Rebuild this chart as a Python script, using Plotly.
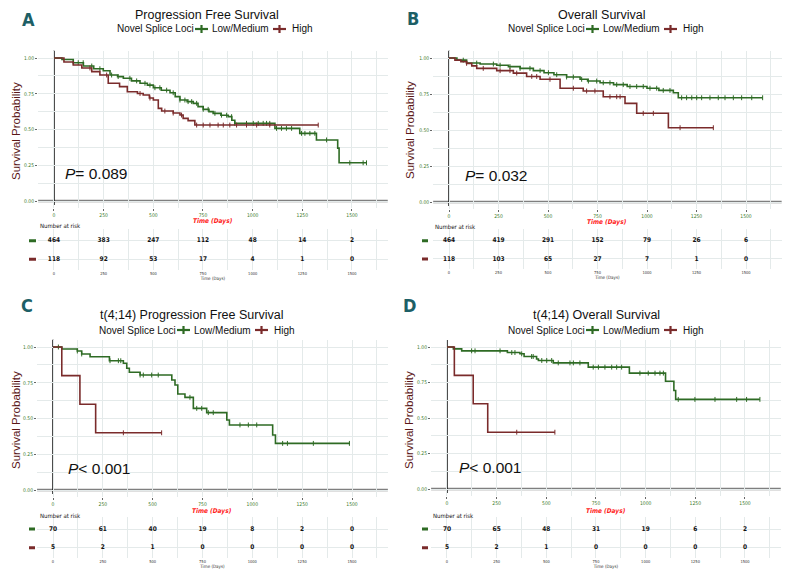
import plotly.graph_objects as go

# the page puts the figure 8 px in from the window corner, so the figure is
# sized to the remaining area and every pixel position is shifted by that
W, H, OFF = 782, 569, 8

# time breaks (days) shared by every panel
time_breaks = [0, 250, 500, 750, 1000, 1250, 1500]

# ---- A: Progression Free Survival ----
a_low_t = [0, 40, 97, 148, 200, 248, 282, 320, 349, 390, 433, 470, 500, 540, 584, 610, 634, 670, 701, 725, 751, 780, 801, 840, 877, 895, 910, 1112, 1237, 1321, 1428, 1435]
a_low_s = [1.0, 0.99, 0.967, 0.944, 0.925, 0.911, 0.881, 0.87, 0.858, 0.84, 0.823, 0.81, 0.792, 0.775, 0.757, 0.73, 0.706, 0.695, 0.683, 0.66, 0.641, 0.625, 0.613, 0.60, 0.59, 0.565, 0.543, 0.508, 0.473, 0.427, 0.37, 0.267]
a_low_end = 1573
a_low_cens = [97, 122, 147, 190, 231, 290, 323, 382, 416, 458, 483, 508, 533, 567, 600, 634, 659, 675, 693, 718, 751, 776, 810, 843, 869, 894, 910, 969, 1003, 1028, 1053, 1070, 1086, 1120, 1145, 1170, 1196, 1246, 1263, 1288, 1313, 1372, 1489, 1556, 1573]
a_high_t = [0, 50, 97, 140, 190, 231, 273, 330, 369, 420, 449, 480, 500, 525, 542, 600, 634, 650, 675, 709]
a_high_s = [1.0, 0.972, 0.951, 0.93, 0.905, 0.881, 0.823, 0.8, 0.764, 0.752, 0.741, 0.72, 0.706, 0.648, 0.629, 0.615, 0.601, 0.578, 0.562, 0.531]
a_high_end = 1330
a_high_cens = [181, 265, 433, 483, 558, 600, 642, 718, 751, 785, 826, 852, 885, 919, 969, 1020, 1086, 1330]
a_risk_low = [464, 383, 247, 112, 48, 14, 2]
a_risk_high = [118, 92, 53, 17, 4, 1, 0]

# ---- B: Overall Survival ----
b_low_t = [0, 40, 89, 157, 241, 300, 359, 426, 480, 530, 594, 662, 700, 763, 831, 900, 1000, 1060, 1133, 1158]
b_low_s = [1.0, 0.985, 0.965, 0.958, 0.95, 0.94, 0.928, 0.912, 0.898, 0.884, 0.868, 0.852, 0.84, 0.828, 0.815, 0.802, 0.79, 0.775, 0.759, 0.724]
b_low_end = 1584
b_low_cens = [72, 140, 224, 258, 308, 359, 409, 460, 502, 544, 594, 628, 670, 704, 746, 779, 813, 847, 880, 914, 948, 981, 1015, 1049, 1082, 1116, 1175, 1200, 1226, 1251, 1276, 1318, 1360, 1394, 1436, 1478, 1529, 1584]
b_high_t = [0, 30, 60, 89, 115, 140, 241, 325, 392, 460, 561, 678, 779, 889, 948, 1108]
b_high_s = [1.0, 0.985, 0.975, 0.963, 0.945, 0.928, 0.912, 0.895, 0.872, 0.852, 0.79, 0.771, 0.731, 0.685, 0.616, 0.516]
b_high_end = 1335
b_high_cens = [89, 173, 258, 308, 342, 418, 443, 510, 628, 695, 737, 813, 847, 864, 981, 1032, 1167, 1335]
b_risk_low = [464, 419, 291, 152, 79, 26, 6]
b_risk_high = [118, 103, 65, 27, 7, 1, 0]

# ---- C: t(4;14) Progression Free Survival ----
c_low_t = [0, 44, 122, 144, 186, 283, 353, 370, 383, 437, 596, 612, 626, 662, 704, 771, 872, 885, 1102, 1116]
c_low_s = [1.0, 0.986, 0.972, 0.951, 0.932, 0.904, 0.886, 0.851, 0.823, 0.804, 0.769, 0.734, 0.671, 0.648, 0.571, 0.541, 0.49, 0.455, 0.385, 0.326]
c_low_end = 1490
c_low_cens = [27, 122, 144, 286, 328, 340, 437, 453, 495, 528, 687, 721, 746, 779, 804, 938, 980, 1022, 1152, 1176, 1306, 1487]
c_high_t = [0, 44, 135, 214]
c_high_s = [1.0, 0.8, 0.6, 0.4]
c_high_end = 545
c_high_cens = [353, 545]
c_risk_low = [70, 61, 40, 19, 8, 2, 0]
c_risk_high = [5, 2, 1, 0, 0, 0, 0]

# ---- D: t(4;14) Overall Survival ----
d_low_t = [0, 32, 74, 304, 367, 388, 451, 460, 535, 711, 918, 1100, 1142, 1151]
d_low_s = [1.0, 0.987, 0.973, 0.961, 0.952, 0.933, 0.916, 0.905, 0.888, 0.858, 0.816, 0.759, 0.694, 0.631]
d_low_end = 1575
d_low_cens = [124, 141, 267, 326, 342, 376, 426, 434, 477, 502, 527, 560, 619, 636, 669, 736, 762, 795, 829, 854, 879, 971, 1013, 1047, 1072, 1089, 1164, 1248, 1349, 1458, 1508, 1575]
d_high_t = [0, 37, 132, 205]
d_high_s = [1.0, 0.8, 0.6, 0.4]
d_high_end = 543
d_high_cens = [351, 543]
d_risk_low = [70, 65, 48, 31, 19, 6, 2]
d_risk_high = [5, 2, 1, 0, 0, 0, 0]

GREEN = '#2e6b24'
RED = '#7a2b2b'
GRID = '#e4eaea'
TICKGREEN = '#3c7a2a'
NARROW = 'DejaVu Sans Condensed, Roboto Condensed, Roboto, Liberation Sans, sans-serif'


def surv_at(t, times, surv):
    val = surv[0]
    for ti, si in zip(times, surv):
        if ti <= t:
            val = si
    return val


panels = [
    dict(letter='A', title='Progression Free Survival', p='<i>P</i>= 0.089',
         low=(a_low_t, a_low_s, a_low_end, a_low_cens), high=(a_high_t, a_high_s, a_high_end, a_high_cens),
         risk=(a_risk_low, a_risk_high),
         zx=54, x15=352, y1=58, y0=201, rl=240.7, rh=259.3, let=(28, 20), tit=(207, 15), lg=(115, 29),
         yt=(16, 131), pp=(63, 173), tt=(213, 220.5), nar=(38, 225), dash=(29, 36)),
    dict(letter='B', title='Overall Survival', p='<i>P</i>= 0.032',
         low=(b_low_t, b_low_s, b_low_end, b_low_cens), high=(b_high_t, b_high_s, b_high_end, b_high_cens),
         risk=(b_risk_low, b_risk_high),
         zx=449, x15=746, y1=58, y0=202, rl=240.7, rh=259.0, let=(413, 19), tit=(602, 15), lg=(506, 29),
         yt=(410, 130), pp=(463, 175), tt=(607, 222), nar=(433, 226.5), dash=(422, 428)),
    dict(letter='C', title='t(4;14) Progression Free Survival', p='<i>P</i>< 0.001',
         low=(c_low_t, c_low_s, c_low_end, c_low_cens), high=(c_high_t, c_high_s, c_high_end, c_high_cens),
         risk=(c_risk_low, c_risk_high),
         zx=53, x15=352, y1=347, y0=490, rl=529, rh=547.7, let=(27, 305), tit=(191, 315), lg=(97, 330),
         yt=(16, 420), pp=(66, 468), tt=(212, 510.5), nar=(38, 515), dash=(29, 35)),
    dict(letter='D', title='t(4;14) Overall Survival', p='<i>P</i>< 0.001',
         low=(d_low_t, d_low_s, d_low_end, d_low_cens), high=(d_high_t, d_high_s, d_high_end, d_high_cens),
         risk=(d_risk_low, d_risk_high),
         zx=447, x15=745, y1=347, y0=489, rl=529, rh=547.7, let=(409, 305), tit=(596, 315), lg=(506, 330),
         yt=(409, 420), pp=(457, 467), tt=(606, 510.5), nar=(431, 515), dash=(422, 428)),
]


def px(x):
    return (x - OFF) / W


def py(y):
    return 1 - (y - OFF) / H


def names(n):
    if n == 1:
        return 'xaxis', 'yaxis', 'x', 'y'
    return f'xaxis{n}', f'yaxis{n}', f'x{n}', f'y{n}'


fig = go.Figure()
layout = {}
shapes = []
annotations = []

for i, p in enumerate(panels):
    km, rk = 2 * i + 1, 2 * i + 2
    kxa, kya, kx, ky = names(km)
    rxa, rya, rx, ry = names(rk)

    scale = (p['x15'] - p['zx']) / 1500
    xdom = [px(p['zx'] - 80 * scale), min(1, px(p['zx'] + 1680 * scale))]
    unit = p['y0'] - p['y1']
    ydom = [py(p['y0'] + 0.05 * unit), py(p['y1'] - 0.05 * unit)]
    ru = p['rh'] - p['rl']
    rdom = [py(p['rh'] + 0.55 * ru), py(p['rl'] - 0.65 * ru)]

    layout[kxa] = dict(domain=xdom, range=[-80, 1680], anchor=ky, tick0=0, dtick=250, automargin=False,
                       showgrid=True, gridcolor=GRID, gridwidth=1, zeroline=False, showline=False,
                       ticks='outside', ticklen=2, tickcolor='#666',
                       tickfont=dict(size=5, color=TICKGREEN, family=NARROW),
                       minor=dict(dtick=125, showgrid=True, gridcolor=GRID, gridwidth=1))
    layout[kya] = dict(domain=ydom, range=[-0.05, 1.05], anchor=kx, tick0=0, dtick=0.25, tickformat='.2f',
                       automargin=False, showgrid=True, gridcolor=GRID, zeroline=False, showline=False,
                       ticks='outside', ticklen=2, tickcolor='#666',
                       tickfont=dict(size=5, color=TICKGREEN, family=NARROW),
                       minor=dict(dtick=0.125, showgrid=True, gridcolor=GRID))
    layout[rxa] = dict(domain=xdom, range=[-80, 1680], anchor=ry, tick0=0, dtick=250, automargin=False,
                       showgrid=True, gridcolor=GRID, zeroline=False, showline=False,
                       tickfont=dict(size=4, color='#333', family=NARROW),
                       title=dict(text='Time (Days)', font=dict(size=4.5, color='#333', family=NARROW), standoff=1),
                       minor=dict(dtick=125, showgrid=True, gridcolor=GRID))
    layout[rya] = dict(domain=rdom, range=[-0.55, 1.65], anchor=rx, tickvals=[0, 1], showticklabels=False,
                       automargin=False, showgrid=True, gridcolor=GRID, zeroline=False, showline=False)

    # reference lines at x=0 and y=0
    shapes.append(dict(type='line', xref=f'{kx} domain', yref=ky, x0=0, x1=1, y0=0, y1=0,
                       line=dict(color='#7f7f7f', width=2.5), layer='below'))
    shapes.append(dict(type='line', xref=kx, yref=f'{ky} domain', x0=0, x1=0, y0=0.02, y1=1,
                       line=dict(color='#111', width=1.5), layer='below'))

    for grp, col in (('low', GREEN), ('high', RED)):
        t, s, end, cens = p[grp]
        fig.add_trace(go.Scatter(x=t + [end], y=s + [s[-1]], mode='lines', xaxis=kx, yaxis=ky,
                                 line=dict(shape='hv', color=col, width=1.6), showlegend=False))
        fig.add_trace(go.Scatter(x=cens, y=[surv_at(c, t, s) for c in cens], mode='markers',
                                 xaxis=kx, yaxis=ky, showlegend=False,
                                 marker=dict(symbol='line-ns', size=3.5, color=col,
                                             line=dict(width=1, color=col))))

    # number-at-risk table
    low_r, high_r = p['risk']
    for row, vals, col in ((1, low_r, GREEN), (0, high_r, RED)):
        fig.add_trace(go.Scatter(x=time_breaks, y=[row] * len(time_breaks), mode='text',
                                 text=[f'<b>{v}</b>' for v in vals], xaxis=rx, yaxis=ry, showlegend=False,
                                 textfont=dict(size=6.5, color='#111', family=NARROW)))
        shapes.append(dict(type='line', xref='paper', yref=ry, x0=px(p['dash'][0]), x1=px(p['dash'][1]),
                           y0=row, y1=row, line=dict(color=col, width=3)))

    # texts
    annotations.append(dict(text=f"<b>{p['letter']}</b>", x=px(p['let'][0]), y=py(p['let'][1]),
                            font=dict(size=18, color='#1d5f66', family=NARROW)))
    annotations.append(dict(text=p['title'], x=px(p['tit'][0]), y=py(p['tit'][1]),
                            font=dict(size=12.5, color='#111')))
    annotations.append(dict(text='Survival Probability', x=px(p['yt'][0]), y=py(p['yt'][1]), textangle=-90,
                            font=dict(size=11.5, color='#5a1616')))
    annotations.append(dict(text=p['p'], x=px(p['pp'][0]), y=py(p['pp'][1]), xanchor='left',
                            font=dict(size=15.5, color='#111')))
    annotations.append(dict(text='<b><i>Time (Days)</i></b>', x=px(p['tt'][0]), y=py(p['tt'][1]),
                            font=dict(size=6.5, color='#ff2020', family=NARROW)))
    annotations.append(dict(text='Number at risk', x=px(p['nar'][0]), y=py(p['nar'][1]), xanchor='left',
                            font=dict(size=6, color='#111', family=NARROW)))

    # legend row
    lx, ly = p['lg']
    annotations.append(dict(text='Novel Splice Loci', x=px(lx), y=py(ly), xanchor='left',
                            font=dict(size=10, color='#111')))
    annotations.append(dict(text='Low/Medium', x=px(lx + 95), y=py(ly), xanchor='left',
                            font=dict(size=10, color='#111')))
    annotations.append(dict(text='High', x=px(lx + 175), y=py(ly), xanchor='left',
                            font=dict(size=10, color='#111')))
    for off, col in ((80, GREEN), (158, RED)):
        shapes.append(dict(type='line', xref='paper', yref='paper', x0=px(lx + off), x1=px(lx + off + 13),
                           y0=py(ly), y1=py(ly), line=dict(color=col, width=2.2)))
        shapes.append(dict(type='line', xref='paper', yref='paper', x0=px(lx + off + 6.5), x1=px(lx + off + 6.5),
                           y0=py(ly - 4), y1=py(ly + 4), line=dict(color=col, width=2.2)))

for a in annotations:
    a.update(xref='paper', yref='paper', showarrow=False)
    a.setdefault('xanchor', 'center')
    a.setdefault('yanchor', 'middle')

fig.update_layout(**layout)
fig.update_layout(width=W, height=H, margin=dict(l=0, r=0, t=0, b=0),
                  paper_bgcolor='white', plot_bgcolor='white',
                  font=dict(family='Liberation Sans', color='#111'),
                  shapes=shapes, annotations=annotations, showlegend=False)

fig.write_html("out.html")
